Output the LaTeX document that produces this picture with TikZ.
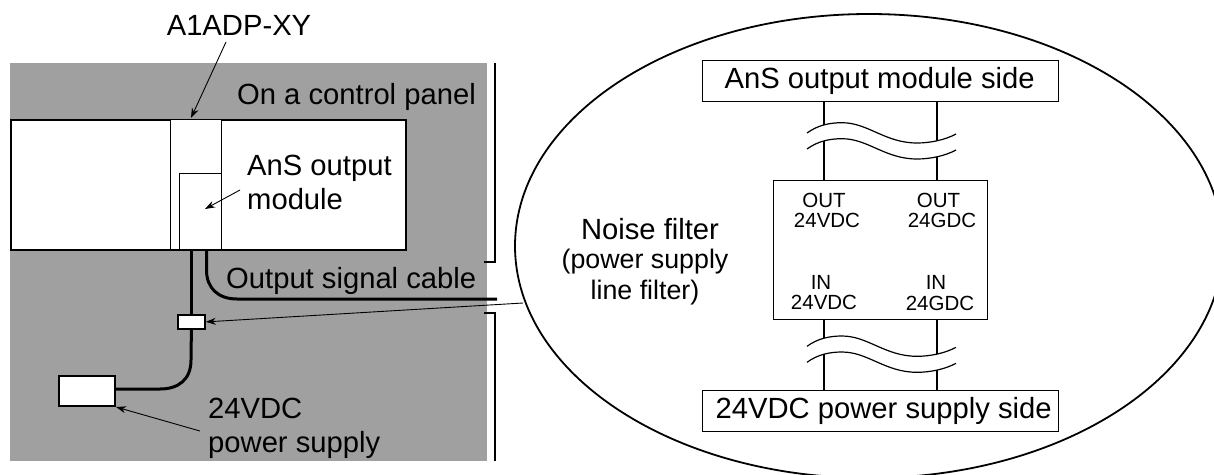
\documentclass[tikz,border=0pt]{standalone}
\usepackage{fontspec}
\setmainfont{Liberation Sans}
\usepackage{tikz}
\usetikzlibrary{arrows.meta}
\usetikzlibrary{shapes,positioning,calc}
\definecolor{panelgray}{HTML}{A0A0A0}
\tikzset{
	bigtext/.style={inner sep=0pt, font=\fontsize{29.2}{34}\selectfont, align=left},
	smalltext/.style={inner sep=0pt, font=\fontsize{20.5}{21}\selectfont, align=center},
	box/.style={draw, fill=white, line width=2pt, inner sep=0pt, anchor=north west},
	thinbox/.style={draw, fill=white, line width=1.3pt, inner sep=0pt, anchor=north west},
	sidebox/.style={thinbox, minimum width=356, minimum height=41, font=\fontsize{29.2}{34}\selectfont},
	thinline/.style={line width=1.3pt},
	cable/.style={line width=3pt},
	leader/.style={line width=0.9pt, -{Stealth[length=10pt,width=7pt]}},
	wave/.style={line width=1.2pt}
}
\newcommand{\breakmark}[1]{%
	\fill[white, yshift=#1] (807,133) .. controls (818,125) and (830,122.7) .. (842,122.7) .. controls (868,122.7) and (885,143) .. (917,143) .. controls (930,143) and (945,140) .. (956,134)
		-- (956,150) .. controls (945,156) and (930,159) .. (917,159) .. controls (885,159) and (868,138.7) .. (842,138.7) .. controls (830,138.7) and (818,141) .. (807,149) -- cycle;
	\draw[wave, yshift=#1] (807,133) .. controls (818,125) and (830,122.7) .. (842,122.7) .. controls (868,122.7) and (885,143) .. (917,143) .. controls (930,143) and (945,140) .. (956,134);
	\draw[wave, yshift=#1] (807,149) .. controls (818,141) and (830,138.7) .. (842,138.7) .. controls (868,138.7) and (885,159) .. (917,159) .. controls (930,159) and (945,156) .. (956,150);
}
\begin{document}
\begin{tikzpicture}[x=1pt, y=-1pt]
	\useasboundingbox (0,0) rectangle (1214,474);
	\fill[panelgray] (10,63) rectangle (487,461);
	\draw[thinline] (495,63) -- (495,262) -- (484,262);
	\draw[thinline] (484,313) -- (495,313) -- (495,461);

	\node[box, minimum width=395, minimum height=130] (rack) at (10,119) {};
	\node[thinbox, minimum width=51, minimum height=130] (adapter) at (170,119) {};
	\node[thinbox, minimum width=42, minimum height=76] (module) at (179,173) {};

	\node[box, line width=1.8pt, minimum width=27, minimum height=14] (filter) at (177,314) {};
	\node[box, minimum width=56, minimum height=30] (supply) at (58,375) {};
	\coordinate (cablebend) at (191,360);
	\coordinate (cableend) at (497,299);
	\coordinate (signalstart) at (206.5,249);
	\draw[cable] (filter.north |- rack.south) -- (filter.north);
	\draw[cable] (filter.south) -- (cablebend) .. controls (191,380) and (178,389) .. (160,389) -- (supply.east |- 0,389);
	\draw[cable] (signalstart) -- (206.5,270) .. controls (206.5,288) and (218,299) .. (237,299) -- (cableend);

	\draw[line width=1.8pt, fill=white] (869,246) ellipse [x radius=354, y radius=232];

	\node[bigtext] (adplabel) at (239,25) {A1ADP-XY};
	\node[bigtext, anchor=base west] (panellabel) at (237,104) {On a control panel};
	\node[bigtext, anchor=base west] (modlabel) at (247,175) {AnS output};
	\node[bigtext, anchor=base west] (modlabelb) at (247,209) {module};
	\node[bigtext, anchor=base west] (cablelabel) at (226,288) {Output signal cable};
	\node[bigtext, anchor=base west] (vdclabel) at (208,418) {24VDC};
	\node[bigtext, anchor=base west] (supplylabel) at (208,452) {power supply};

	\coordinate (adpfrom) at (226,42);
	\coordinate (adpto) at (191,118);
	\coordinate (modfrom) at (240,190);
	\coordinate (modto) at (205,209);
	\coordinate (filterfrom) at (523,303);
	\coordinate (supplyfrom) at (200,431);
	\draw[leader] (adpfrom) -- (adpto);
	\draw[leader] (modfrom) -- (modto);
	\draw[leader] (filterfrom) -- (filter.east);
	\draw[leader] (supplyfrom) -- (supply.south east);

	\node[sidebox] (outside) at (702,60) {\hspace{-2pt}AnS output module side};
	\node[sidebox] (inside) at (702,390) {\hspace{6pt}24VDC power supply side};
	\node[thinbox, minimum width=214, minimum height=139] (nf) at (773,180) {};
	\coordinate (wirea) at (824,0);
	\coordinate (wireb) at (937,0);
	\foreach \wr in {wirea,wireb}{
		\draw[thinline] (\wr |- outside.south) -- (\wr |- nf.north);
		\draw[thinline] (\wr |- nf.south) -- (\wr |- inside.north);
	}
	\breakmark{0pt}
	\breakmark{-213.3pt}

	\node[bigtext] (nflabel) at (650,229) {Noise filter};
	\node[inner sep=0pt, font=\fontsize{26.8}{31}\selectfont, align=center] (nfnote) at (645,277) {(power supply\\line filter)};
	\node[smalltext] at (824,200) {OUT};
	\node[smalltext] at (827,220) {24VDC};
	\node[smalltext] at (938.5,200) {OUT};
	\node[smalltext] at (942,220) {24GDC};
	\node[smalltext] at (821,282) {IN};
	\node[smalltext] at (824,302) {24VDC};
	\node[smalltext] at (936,282) {IN};
	\node[smalltext] at (940,303) {24GDC};
\end{tikzpicture}
\end{document}
